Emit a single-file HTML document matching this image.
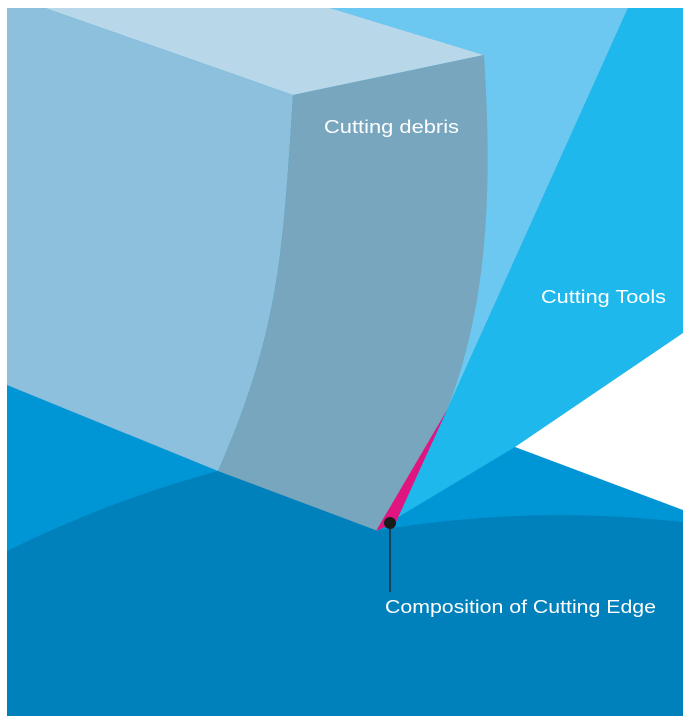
<!DOCTYPE html>
<html><head><meta charset="utf-8"><style>html,body{margin:0;padding:0;background:#fff}svg{display:block}</style></head>
<body>
<svg width="696" height="726" viewBox="0 0 696 726" xmlns="http://www.w3.org/2000/svg">
<rect x="7" y="8" width="676" height="708" fill="#0096d6"/>
<polygon points="330,8 628,8 447,410 484,55" fill="#6cc8f0"/>
<polygon points="628,8 683,8 683,333 515,447 380,528 447,410" fill="#1eb8ec"/>
<polygon points="683,333 515,447 683,510" fill="#ffffff"/>
<path d="M7,551 Q110,500 218,471 L380,530 Q530,505 683,522 L683,716 L7,716 Z" fill="#0081bb"/>
<polygon points="45,8 330,8 484,55 293,95" fill="#b8d8ea"/>
<path d="M7,8 L45,8 L293,95 C283,250 280,330 218,471 L7,385 Z" fill="#8dc0dc"/>
<path d="M293,95 L484,55 C492,180 490,300 447,410 L378,531 L218,471 C280,330 283,250 293,95 Z" fill="#78a6bf"/>
<polygon points="447,410 376,531 396,522" fill="#e0157f"/>
<line x1="390" y1="523" x2="390" y2="592" stroke="#1a1a1a" stroke-width="1.2"/>
<circle cx="390" cy="523" r="6" fill="#1a1a1a"/>
<g font-family="Liberation Sans, sans-serif" font-size="18" fill="#ffffff">
<text x="324" y="133" textLength="135" lengthAdjust="spacingAndGlyphs">Cutting debris</text>
<text x="541" y="303" textLength="125" lengthAdjust="spacingAndGlyphs">Cutting Tools</text>
<text x="385" y="613" textLength="271" lengthAdjust="spacingAndGlyphs">Composition of Cutting Edge</text>
</g>
</svg>
</body></html>
